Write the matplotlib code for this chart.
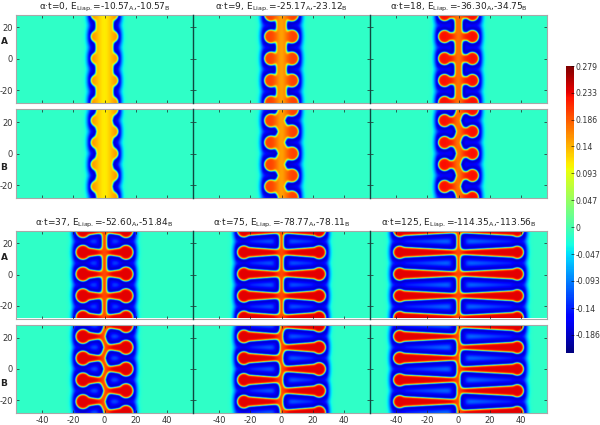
import numpy as np
import matplotlib
matplotlib.use("Agg")
import matplotlib.pyplot as plt
from matplotlib.cm import ScalarMappable
from matplotlib.colors import Normalize

plt.rcParams["axes.unicode_minus"] = False

W, H = 600, 425

# values, one entry per time step
times = [0, 9, 18, 37, 75, 125]
energy_a = ["-10.57", "-25.17", "-36.30", "-52.60", "-78.77", "-114.35"]
energy_b = ["-10.57", "-23.12", "-34.75", "-51.84", "-78.11", "-113.56"]
tip_x = [8.6, 11.0, 13.0, 18.5, 28.5, 42.0]
head_r = [3.2, 4.2, 4.0, 4.6, 4.2, 4.0]
shaft_r = [3.2, 3.4, 2.8, 3.4, 3.4, 3.4]
root_r = [3.2, 3.0, 2.0, 1.3, 1.6, 1.4]
trunk_r = [5.6, 3.2, 2.3, 1.5, 1.3, 1.2]
zigzag = [0.6, 1.8, 1.5, 1.6, 1.2, 0.9]
inner_amp = [0.16, 0.2, 0.225, 0.235, 0.235, 0.235]
inner_dip = [0.05, 0.05, 0.05, 0.04, 0.04, 0.04]
dip_w = [5.5, 4.0, 3.5, 3.0, 3.0, 3.0]
gap_w = [5.0, 5.5, 5.5, 5.5, 5.5, 5.5]

# finger rows
rows_a_left = [-28, -14, 0, 14, 28]
rows_a_right = [-28, -14, 0, 14, 28]
rows_b_left = [-35, -21, -7, 7, 21, 35]
rows_b_right = [-28, -14, 0, 14, 28]

cbar_ticks = [0.279, 0.233, 0.186, 0.14, 0.093, 0.047, 0, -0.047, -0.093, -0.14, -0.186]
cbar_labels = ["0.279", "0.233", "0.186", "0.14", "0.093", "0.047", "0", "-0.047", "-0.093", "-0.14", "-0.186"]
vmin, vmax = -0.217, 0.279
background = -0.015

x_ticks = [-40, -20, 0, 20, 40]
y_ticks = [-20, 0, 20]
x_lim = 57
y_lim = 28.2

col_px = [(16, 193), (193, 370), (370, 547)]
row_px = [(14.5, 103), (109.5, 198), (230.5, 318.5), (325, 413)]

xs = np.arange(-x_lim, x_lim + 0.3, 0.3)
ys = np.arange(-y_lim, y_lim + 0.3, 0.3)
X, Y = np.meshgrid(xs, ys)


def seg_dist(x0, y0, x1, y1, r0, r1):
    dx, dy = x1 - x0, y1 - y0
    t = ((X - x0) * dx + (Y - y0) * dy) / (dx * dx + dy * dy)
    t = np.clip(t, 0, 1)
    return np.hypot(X - x0 - t * dx, Y - y0 - t * dy) - (r0 + (r1 - r0) * t)


def smooth_union(a, b, k):
    return -k * np.logaddexp(-a / k, -b / k)


def field(i, left, right, staggered):
    if staggered:
        # trunk zigzags between the alternating finger roots
        pts = sorted([(y, -zigzag[i]) for y in left] + [(y, zigzag[i]) for y in right])
        d = None
        for (y0, x0), (y1, x1) in zip(pts[:-1], pts[1:]):
            s = seg_dist(x0, y0, x1, y1, trunk_r[i], trunk_r[i])
            d = s if d is None else np.minimum(d, s)
    else:
        d = seg_dist(0, -40, 0, 40, trunk_r[i], trunk_r[i])
    c = tip_x[i] - head_r[i]
    for side, rows in ((-1, left), (1, right)):
        for y in rows:
            start = side * zigzag[i] if staggered else 0
            finger = seg_dist(start, y, side * c, y, root_r[i], shaft_r[i])
            finger = smooth_union(finger, np.hypot(X - side * c, Y - y) - head_r[i], 0.3)
            d = smooth_union(d, finger, 0.9)
    inside = inner_amp[i] - inner_dip[i] * np.exp(-(X / dip_w[i]) ** 2)
    beyond = np.maximum(np.abs(X) - tip_x[i], 0)
    outside = background - 0.18 * np.exp(-(np.maximum(d, 0) / gap_w[i]) ** 2) * np.exp(-(beyond / 3.2) ** 2)
    s = 0.5 * (1 - np.tanh(d / 0.55))
    return inside * s + outside * (1 - s)


def px_axes(fig, xr, yr):
    return fig.add_axes([xr[0] / W, 1 - yr[1] / H, (xr[1] - xr[0]) / W, (yr[1] - yr[0]) / H])


fig = plt.figure(figsize=(W / 100, H / 100), dpi=100)
gray = "#333333"

for i in range(6):
    col = i % 3
    top = 0 if i < 3 else 2
    for k in range(2):
        ax = px_axes(fig, col_px[col], row_px[top + k])
        if k == 0:
            z = field(i, rows_a_left, rows_a_right, False)
        else:
            z = field(i, rows_b_left, rows_b_right, True)
        ax.imshow(z, extent=[xs[0], xs[-1], ys[0], ys[-1]], origin="lower", cmap="jet",
                  vmin=vmin, vmax=vmax, aspect="auto", interpolation="bilinear")
        ax.set_xlim(-x_lim, x_lim)
        ax.set_ylim(-y_lim, y_lim)
        ax.set_xticks(x_ticks)
        ax.set_yticks(y_ticks)
        ax.tick_params(direction="in", length=2, width=0.5, color="#222222", labelsize=6,
                       labelcolor=gray, pad=2, top=True, right=True,
                       labelleft=col == 0, labelbottom=(top == 2 and k == 1))
        for sp in ax.spines.values():
            sp.set_color("#a8a8a8")
            sp.set_linewidth(0.8)
        if col > 0:
            ax.spines["left"].set_color("#0d4a42")
            ax.spines["left"].set_linewidth(1.0)
            ax.spines["left"].set_zorder(5)
        if k == 0:
            ax.set_title("α·t=%d, E$_{\\mathrm{Liap.}}$=%s$_{\\mathrm{A}}$,%s$_{\\mathrm{B}}$"
                         % (times[i], energy_a[i], energy_b[i]),
                         fontsize=6.5, color="#222222", pad=2.5)

for label, y_px in (("A", 42), ("B", 168), ("A", 258), ("B", 384)):
    fig.text(0.5 / W, 1 - y_px / H, label, fontsize=6.5, fontweight="bold", color="#222222",
             ha="left", va="center")

cax = px_axes(fig, (565.5, 574), (66, 352.5))
cb = fig.colorbar(ScalarMappable(Normalize(vmin, vmax), "jet"), cax=cax)
cb.set_ticks(cbar_ticks)
cb.set_ticklabels(cbar_labels)
cb.ax.tick_params(direction="in", length=2, width=0.4, labelsize=5.6, labelcolor=gray, pad=1)
cb.outline.set_visible(False)

fig.savefig("out.png", dpi=100)
